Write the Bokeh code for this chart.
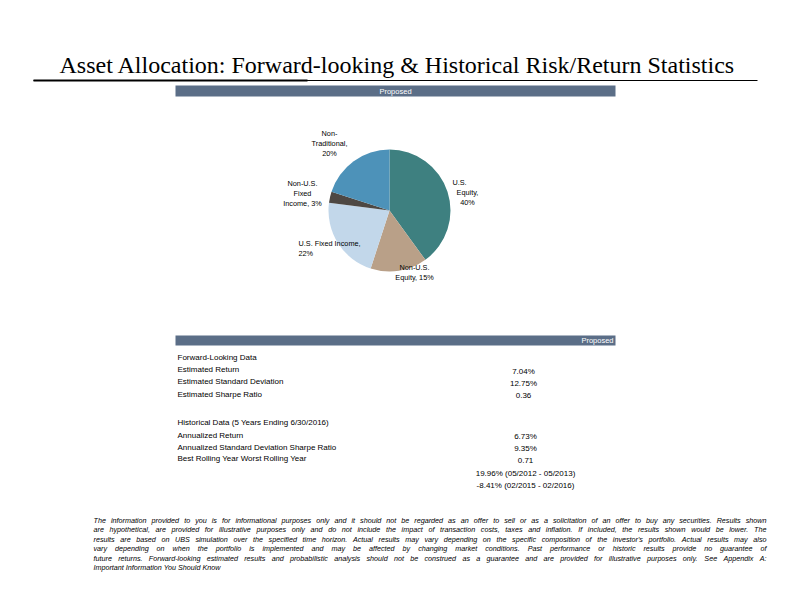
import numpy as np
from bokeh.plotting import figure
from bokeh.models import Range1d
from bokeh.core.properties import value
from bokeh.embed import file_html
from bokeh.resources import INLINE

# ---------------- data ----------------
title = "Asset Allocation: Forward-looking & Historical Risk/Return Statistics"
bar_label = "Proposed"
categories = ["U.S. Equity", "Non-U.S. Equity", "U.S. Fixed Income", "Non-U.S. Fixed Income", "Non-Traditional"]
weights = [40, 15, 22, 3, 20]
colors = ["#3e8080", "#b9a088", "#c2d7ea", "#4e4843", "#4d92b9"]
pie_label_lines = [["U.S.", "Equity,", "40%"],
                   ["Non-U.S.", "Equity, 15%"],
                   ["U.S. Fixed Income,", "22%"],
                   ["Non-U.S.", "Fixed", "Income, 3%"],
                   ["Non-", "Traditional,", "20%"]]

forward_header = "Forward-Looking Data"
forward_rows = ["Estimated Return", "Estimated Standard Deviation", "Estimated Sharpe Ratio"]
forward_values = ["7.04%", "12.75%", "0.36"]
hist_header = "Historical Data (5 Years Ending 6/30/2016)"
hist_rows = ["Annualized Return", "Annualized Standard Deviation Sharpe Ratio", "Best Rolling Year Worst Rolling Year"]
hist_values = ["6.73%", "9.35%", "0.71", "19.96% (05/2012 - 05/2013)", "-8.41% (02/2015 - 02/2016)"]

footnote_lines = [
    "The information provided to you is for informational purposes only and it should not be regarded as an offer to sell or as a solicitation of an offer to buy any securities. Results shown",
    "are hypothetical, are provided for illustrative purposes only and do not include the impact of transaction costs, taxes and inflation. If included, the results shown would be lower. The",
    "results are based on UBS simulation over the specified time horizon. Actual results may vary depending on the specific composition of the investor's portfolio. Actual results may also",
    "vary depending on when the portfolio is implemented and may be affected by changing market conditions. Past performance or historic results provide no guarantee of",
    "future returns. Forward-looking estimated results and probabilistic analysis should not be construed as a guarantee and are provided for illustrative purposes only. See Appendix A:",
    "Important Information You Should Know",
]

# ---------------- figure (data coords = screen pixels, y negated) ----------------
W, H = 776, 578
p = figure(width=W, height=H, output_backend="svg", toolbar_location=None,
           x_range=Range1d(0, W), y_range=Range1d(-H, 0),
           x_axis_type=None, y_axis_type=None, min_border=0,
           outline_line_color=None, background_fill_color="white", border_fill_color="white")
p.grid.visible = False

SANS = value("Liberation Sans")

def txt(x, y, s, size, align="left", color="black", font=SANS, style="normal"):
    p.text(x=[x], y=[-y], text=[s], text_font=font, text_font_size=f"{size}px",
           text_align=align, text_baseline="middle", text_color=color, text_font_style=style)

# title
txt(397, 64, title, 24, align="center", font=value("Liberation Serif"))
p.segment(x0=[33], y0=[-80], x1=[757], y1=[-80], line_color="black", line_width=1)
p.segment(x0=[33], y0=[-80], x1=[307], y1=[-80], line_color="black", line_width=2)

# header bars
BAR = "#5b6e87"
p.quad(left=[175], right=[615], top=[-85], bottom=[-96], fill_color=BAR, line_color=None)
txt(395, 90.5, bar_label, 7.5, align="center", color="white")
p.quad(left=[175], right=[615], top=[-335], bottom=[-345], fill_color=BAR, line_color=None)
txt(613, 340, bar_label, 7.5, align="right", color="white")

# pie
cx, cy, r = 389, 210, 61
w = np.array(weights, dtype=float)
frac = w / w.sum()
cum = np.concatenate([[0], np.cumsum(frac)])
starts = np.pi / 2 - 2 * np.pi * cum[:-1]
ends = np.pi / 2 - 2 * np.pi * cum[1:]
p.wedge(x=[cx] * len(w), y=[-cy] * len(w), radius=r, start_angle=starts, end_angle=ends,
        direction="clock", fill_color=colors, line_color=None)

# pie labels (positions per slice)
label_pos = [  # (x, first-line y, align)
    (459, 182, "center"),
    (414, 267, "center"),
    (298, 243, "left"),
    (302, 183, "center"),
    (329, 133, "center"),
]
for (x, y0, al), lines in zip(label_pos, pie_label_lines):
    for k, s in enumerate(lines):
        xx = x
        if lines[0] == "U.S." and k > 0:
            xx = x + 8
        txt(xx, y0 + k * 10, s, 7.3, align=al)

# table
LX, VX, FS = 177, 523, 8
txt(LX, 357, forward_header, FS)
for k, s in enumerate(forward_rows):
    txt(LX, 369 + 12.3 * k, s, FS)
for k, s in enumerate(forward_values):
    txt(VX, 371 + 12 * k, s, FS, align="center")
txt(LX, 422, hist_header, FS)
for k, s in enumerate(hist_rows):
    txt(LX, 435 + 11.7 * k, s, FS)
vy = [436, 448, 460, 473, 485]
for y, s in zip(vy, hist_values):
    txt(VX + 2, y, s, FS, align="center")

# footnote (justified, using Arial-compatible advance widths)
AW = {' ': 278, 'a': 556, 'b': 556, 'c': 500, 'd': 556, 'e': 556, 'f': 278, 'g': 556, 'h': 556,
      'i': 222, 'j': 222, 'k': 500, 'l': 222, 'm': 833, 'n': 556, 'o': 556, 'p': 556, 'q': 556,
      'r': 333, 's': 500, 't': 278, 'u': 556, 'v': 500, 'w': 722, 'x': 500, 'y': 500, 'z': 500,
      'A': 667, 'B': 667, 'C': 722, 'D': 722, 'E': 667, 'F': 611, 'G': 778, 'H': 722, 'I': 278,
      'J': 500, 'K': 667, 'L': 556, 'M': 833, 'N': 722, 'O': 778, 'P': 667, 'Q': 778, 'R': 722,
      'S': 667, 'T': 611, 'U': 722, 'V': 667, 'W': 944, 'X': 667, 'Y': 667, 'Z': 611,
      '.': 278, ',': 278, ':': 278, "'": 191, '-': 333, '(': 333, ')': 333, '/': 278, '%': 889}
def tw(s, fs):
    return sum(AW.get(c, 556) for c in s) * fs / 1000.0

FL, FR = 93, 766
fs_fn = min((FR - FL) / tw(s, 1.0) for s in footnote_lines[:-1])
fs_fn = min(fs_fn, 7.2)
for k, line in enumerate(footnote_lines):
    y = 520 + 9.4 * k
    words = line.split(" ")
    if k == len(footnote_lines) - 1:
        txt(FL, y, line, fs_fn, style="italic")
        continue
    total = sum(tw(wd, fs_fn) for wd in words)
    gap = (FR - FL - total) / (len(words) - 1)
    xs, x = [], FL
    for wd in words:
        xs.append(x)
        x += tw(wd, fs_fn) + gap
    p.text(x=xs, y=[-y] * len(words), text=words, text_font=SANS, text_font_size=f"{fs_fn:.2f}px",
           text_align="left", text_baseline="middle", text_color="black", text_font_style="italic")

open("out.html", "w").write(file_html(p, INLINE))
